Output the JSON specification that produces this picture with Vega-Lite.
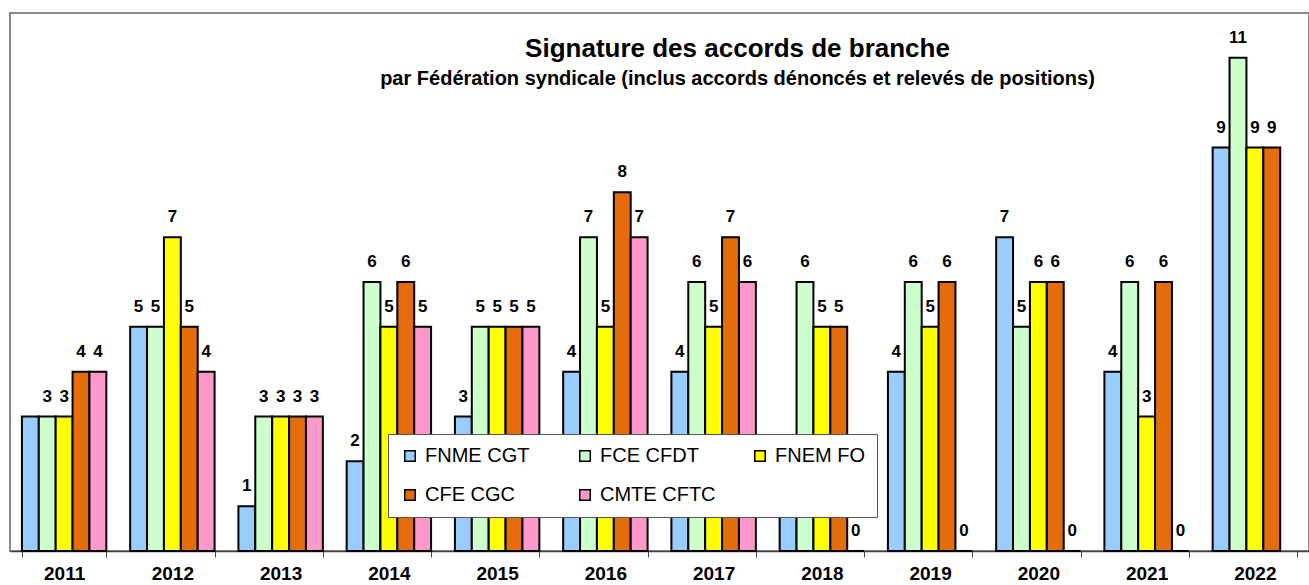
{
  "$schema": "https://vega.github.io/schema/vega-lite/v6.json",
  "autosize": {"type": "none"},
  "padding": {"left": 10, "top": 13, "right": 0, "bottom": 34},
  "width": 1299,
  "height": 538,
  "background": "white",
  "config": {
    "font": "Liberation Sans",
    "view": {"stroke": "#888888", "strokeWidth": 2}
  },
  "title": {
    "text": "Signature des accords de branche",
    "subtitle": "par Fédération syndicale  (inclus  accords dénoncés et relevés de positions)",
    "anchor": "middle",
    "frame": "group",
    "offset": -76,
    "dx": 78,
    "font": "Liberation Sans",
    "fontSize": 26,
    "fontWeight": "bold",
    "color": "black",
    "subtitleFont": "Liberation Sans",
    "subtitleFontSize": 20,
    "subtitleFontWeight": "bold",
    "subtitleColor": "black",
    "subtitlePadding": 7
  },
  "data": {
    "values": [
      {"year": "2011", "federation": "FNME CGT", "n": 3},
      {"year": "2011", "federation": "FCE CFDT", "n": 3},
      {"year": "2011", "federation": "FNEM FO", "n": 3},
      {"year": "2011", "federation": "CFE CGC", "n": 4},
      {"year": "2011", "federation": "CMTE CFTC", "n": 4},
      {"year": "2012", "federation": "FNME CGT", "n": 5},
      {"year": "2012", "federation": "FCE CFDT", "n": 5},
      {"year": "2012", "federation": "FNEM FO", "n": 7},
      {"year": "2012", "federation": "CFE CGC", "n": 5},
      {"year": "2012", "federation": "CMTE CFTC", "n": 4},
      {"year": "2013", "federation": "FNME CGT", "n": 1},
      {"year": "2013", "federation": "FCE CFDT", "n": 3},
      {"year": "2013", "federation": "FNEM FO", "n": 3},
      {"year": "2013", "federation": "CFE CGC", "n": 3},
      {"year": "2013", "federation": "CMTE CFTC", "n": 3},
      {"year": "2014", "federation": "FNME CGT", "n": 2},
      {"year": "2014", "federation": "FCE CFDT", "n": 6},
      {"year": "2014", "federation": "FNEM FO", "n": 5},
      {"year": "2014", "federation": "CFE CGC", "n": 6},
      {"year": "2014", "federation": "CMTE CFTC", "n": 5},
      {"year": "2015", "federation": "FNME CGT", "n": 3},
      {"year": "2015", "federation": "FCE CFDT", "n": 5},
      {"year": "2015", "federation": "FNEM FO", "n": 5},
      {"year": "2015", "federation": "CFE CGC", "n": 5},
      {"year": "2015", "federation": "CMTE CFTC", "n": 5},
      {"year": "2016", "federation": "FNME CGT", "n": 4},
      {"year": "2016", "federation": "FCE CFDT", "n": 7},
      {"year": "2016", "federation": "FNEM FO", "n": 5},
      {"year": "2016", "federation": "CFE CGC", "n": 8},
      {"year": "2016", "federation": "CMTE CFTC", "n": 7},
      {"year": "2017", "federation": "FNME CGT", "n": 4},
      {"year": "2017", "federation": "FCE CFDT", "n": 6},
      {"year": "2017", "federation": "FNEM FO", "n": 5},
      {"year": "2017", "federation": "CFE CGC", "n": 7},
      {"year": "2017", "federation": "CMTE CFTC", "n": 6},
      {"year": "2018", "federation": "FNME CGT", "n": 2},
      {"year": "2018", "federation": "FCE CFDT", "n": 6},
      {"year": "2018", "federation": "FNEM FO", "n": 5},
      {"year": "2018", "federation": "CFE CGC", "n": 5},
      {"year": "2018", "federation": "CMTE CFTC", "n": 0},
      {"year": "2019", "federation": "FNME CGT", "n": 4},
      {"year": "2019", "federation": "FCE CFDT", "n": 6},
      {"year": "2019", "federation": "FNEM FO", "n": 5},
      {"year": "2019", "federation": "CFE CGC", "n": 6},
      {"year": "2019", "federation": "CMTE CFTC", "n": 0},
      {"year": "2020", "federation": "FNME CGT", "n": 7},
      {"year": "2020", "federation": "FCE CFDT", "n": 5},
      {"year": "2020", "federation": "FNEM FO", "n": 6},
      {"year": "2020", "federation": "CFE CGC", "n": 6},
      {"year": "2020", "federation": "CMTE CFTC", "n": 0},
      {"year": "2021", "federation": "FNME CGT", "n": 4},
      {"year": "2021", "federation": "FCE CFDT", "n": 6},
      {"year": "2021", "federation": "FNEM FO", "n": 3},
      {"year": "2021", "federation": "CFE CGC", "n": 6},
      {"year": "2021", "federation": "CMTE CFTC", "n": 0},
      {"year": "2022", "federation": "FNME CGT", "n": 9},
      {"year": "2022", "federation": "FCE CFDT", "n": 11},
      {"year": "2022", "federation": "FNEM FO", "n": 9},
      {"year": "2022", "federation": "CFE CGC", "n": 9}
    ]
  },
  "encoding": {
    "x": {
      "field": "year",
      "type": "nominal",
      "scale": {"paddingInner": 0.22, "paddingOuter": 0.11},
      "axis": {
        "title": null,
        "tickBand": "extent",
        "labelAngle": 0,
        "labelFont": "Liberation Sans",
        "labelFontSize": 19,
        "labelFontWeight": "bold",
        "labelColor": "black",
        "labelPadding": 7,
        "tickSize": 6,
        "tickColor": "#444444",
        "domainColor": "#444444",
        "domainWidth": 1.5
      }
    },
    "xOffset": {
      "field": "federation",
      "type": "nominal",
      "scale": {"domain": ["FNME CGT", "FCE CFDT", "FNEM FO", "CFE CGC", "CMTE CFTC"], "paddingInner": 0}
    },
    "y": {
      "field": "n",
      "type": "quantitative",
      "scale": {"domain": [0, 12], "nice": false},
      "axis": null
    }
  },
  "layer": [
    {
      "mark": {"type": "bar", "stroke": "black", "strokeWidth": 2},
      "encoding": {
        "color": {
          "field": "federation",
          "type": "nominal",
          "scale": {
            "domain": ["FNME CGT", "FCE CFDT", "FNEM FO", "CFE CGC", "CMTE CFTC"],
            "range": ["#99CCFF", "#CCFFCC", "#FFFF00", "#E46C0A", "#FF99CC"]
          },
          "legend": {
            "title": null,
            "orient": "none",
            "legendX": 378,
            "legendY": 421,
            "direction": "horizontal",
            "columns": 3,
            "gridAlign": "all",
            "columnPadding": 34,
            "rowPadding": 19,
            "padding": 12,
            "fillColor": "white",
            "strokeColor": "#555555",
            "symbolType": "square",
            "symbolSize": 110,
            "symbolStrokeColor": "black",
            "symbolStrokeWidth": 1.5,
            "symbolOpacity": 1,
            "labelFont": "Liberation Sans",
            "labelFontSize": 20,
            "labelColor": "black",
            "labelOffset": 5,
            "labelLimit": 300
          }
        }
      }
    },
    {
      "transform": [
        {"filter": "!(datum.year == '2011' && datum.federation == 'FNME CGT')"}
      ],
      "mark": {
        "type": "text",
        "baseline": "alphabetic",
        "align": "center",
        "dy": -15,
        "font": "Liberation Sans",
        "fontSize": 17,
        "fontWeight": "bold",
        "color": "black"
      },
      "encoding": {
        "text": {"field": "n", "type": "quantitative"}
      }
    }
  ]
}
